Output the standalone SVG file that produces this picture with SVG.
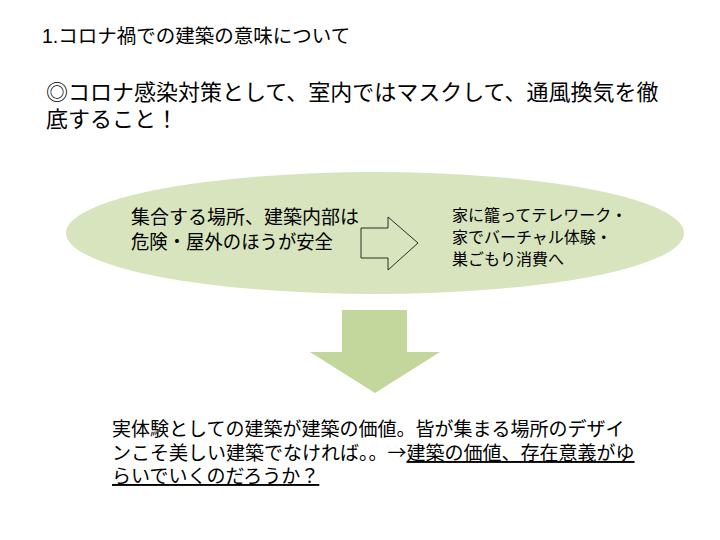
<svg xmlns="http://www.w3.org/2000/svg" width="720" height="540" viewBox="0 0 720 540">
<style>
text{font-family:"Liberation Sans","Noto Sans CJK JP",sans-serif;fill:#000}
.t1{font-size:19.5px}
.t2{font-size:22px}
.t3{font-size:19px}
.t4{font-size:16px}
.t5{font-size:19px}
.u{text-decoration:underline}
.cjk{font-family:"Noto Sans CJK JP",sans-serif}
</style>
<rect width="720" height="540" fill="#fff"/>
<g id="title"><text class="t1" x="42" y="43">1.コロナ禍での建築の意味について</text></g>
<g id="heading">
<text class="t2" x="46" y="100">◎コロナ感染対策として、室内ではマスクして、通風換気を徹</text>
<text class="t2" x="46" y="127">底すること！</text>
</g>
<g id="ellipse-node">
<ellipse cx="375" cy="233" rx="309" ry="61" fill="#d7e4bd"/>
<text class="t3" x="131" y="224">集合する場所、建築内部は</text>
<text class="t3" x="131" y="249" textLength="202" lengthAdjust="spacingAndGlyphs">危険・屋外のほうが安全</text>
<text class="t4" x="452" y="221">家に籠ってテレワーク・</text>
<text class="t4" x="452" y="243">家でバーチャル体験・</text>
<text class="t4" x="452" y="265">巣ごもり消費へ</text>
</g>
<g id="connectors">
<path d="M361,228 H388 V217 L418,243 L388,270 V258 H361 Z" fill="none" stroke="#000" stroke-width="0.8"/>
<path d="M342,310 H407 V352 H440 L375,393 L310,352 H342 Z" fill="#c3d69b"/>
</g>
<g id="conclusion">
<text class="t5" x="112" y="436">実体験としての建築が建築の価値。皆が集まる場所のデザイ</text>
<text class="t5" x="112" y="460">ンこそ美しい建築でなければ。。<tspan class="cjk">→</tspan><tspan class="u">建築の価値、存在意義がゆ</tspan></text>
<text class="t5" x="112" y="483"><tspan class="u">らいでいくのだろうか？</tspan></text>
</g>
</svg>
